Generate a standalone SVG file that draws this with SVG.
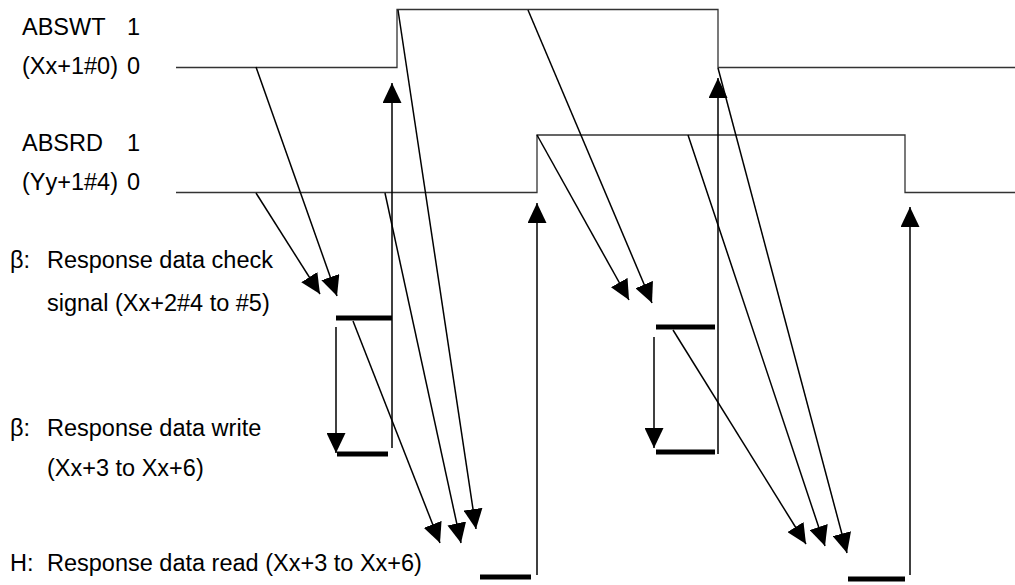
<svg xmlns="http://www.w3.org/2000/svg" width="1015" height="585" viewBox="0 0 1015 585">
<style>
text{font-family:"Liberation Sans",Arial,sans-serif;font-size:23.5px;fill:#000}
.wave{fill:none;stroke:#333;stroke-width:1.3}
.arr{fill:none;stroke:#000;stroke-width:1.5;marker-end:url(#ah)}
.bar{stroke:#000;stroke-width:5}
</style>
<defs>
<marker id="ah" markerUnits="userSpaceOnUse" viewBox="0 0 20 19" refX="20" refY="9.5" markerWidth="20" markerHeight="19" orient="auto">
<path d="M0,0 L20,9.5 L0,19 z" fill="#000"/>
</marker>
</defs>
<g id="labels">
<text x="22" y="35">ABSWT<tspan x="127">1</tspan></text>
<text x="22" y="74">(Xx+1#0)<tspan x="127">0</tspan></text>
<text x="22" y="151">ABSRD<tspan x="127">1</tspan></text>
<text x="22" y="190">(Yy+1#4)<tspan x="127">0</tspan></text>
<text x="10" y="268">β:<tspan x="47">Response data check</tspan></text>
<text x="47" y="311">signal (Xx+2#4 to #5)</text>
<text x="10" y="436">β:<tspan x="47">Response data write</tspan></text>
<text x="47" y="476">(Xx+3 to Xx+6)</text>
<text x="10" y="571">H:<tspan x="47">Response data read (Xx+3 to Xx+6)</tspan></text>
</g>
<g id="absWT"><path class="wave" d="M176,67.5 H397 V9.5 H718 V67.5 H1015"/></g>
<g id="absRD"><path class="wave" d="M176,192.5 H537 V135 H905 V192.5 H1015"/></g>
<g id="bars">
<line class="bar" x1="336" y1="318" x2="392" y2="318"/>
<line class="bar" x1="337" y1="454" x2="388" y2="454"/>
<line class="bar" x1="480" y1="577" x2="531" y2="577"/>
<line class="bar" x1="656" y1="327" x2="715" y2="327"/>
<line class="bar" x1="656" y1="452" x2="715" y2="452"/>
<line class="bar" x1="848" y1="579" x2="905" y2="579"/>
</g>
<g id="connectors">
<line class="arr" x1="256" y1="67" x2="337" y2="296"/>
<line class="arr" x1="256" y1="193" x2="320" y2="294"/>
<line class="arr" x1="336" y1="327" x2="336" y2="453"/>
<line class="arr" x1="392" y1="448" x2="392" y2="83"/>
<line class="arr" x1="353" y1="321" x2="440" y2="543"/>
<line class="arr" x1="385" y1="193" x2="461" y2="543"/>
<line class="arr" x1="398" y1="10" x2="476" y2="529"/>
<line class="arr" x1="537" y1="575" x2="537" y2="203"/>
<line class="arr" x1="537" y1="135" x2="629" y2="300"/>
<line class="arr" x1="528" y1="10" x2="652" y2="303"/>
<line class="arr" x1="654" y1="337" x2="654" y2="448"/>
<line class="arr" x1="718" y1="454" x2="718" y2="78"/>
<line class="arr" x1="673" y1="330" x2="806" y2="544"/>
<line class="arr" x1="688" y1="135" x2="825" y2="546"/>
<line class="arr" x1="718" y1="68" x2="847" y2="553"/>
<line class="arr" x1="910" y1="575" x2="910" y2="207"/>
</g>
</svg>
